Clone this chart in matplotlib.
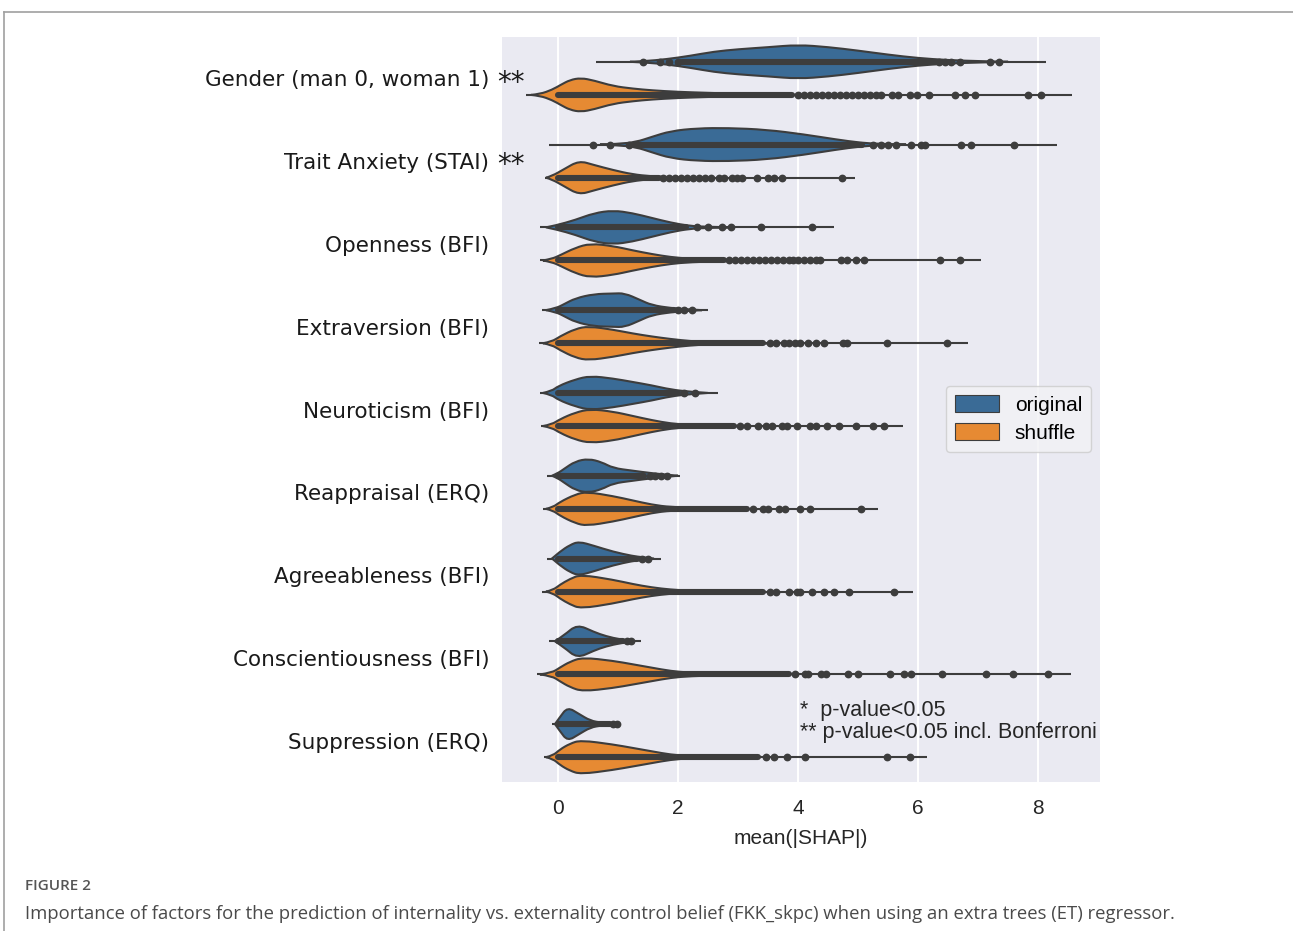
import matplotlib
matplotlib.use("Agg")
import matplotlib.pyplot as plt
from matplotlib.lines import Line2D
from matplotlib.patches import Patch, PathPatch
from matplotlib.path import Path

# feature names (top to bottom)
features = ["Gender (man 0, woman 1)", "Trait Anxiety (STAI)", "Openness (BFI)",
            "Extraversion (BFI)", "Neuroticism (BFI)", "Reappraisal (ERQ)",
            "Agreeableness (BFI)", "Conscientiousness (BFI)", "Suppression (ERQ)"]
signif = ["**", "**", "", "", "", "", "", "", ""]

# violin outlines: knot positions (mean|SHAP|) and relative half-width
orig_x = [[1.2, 1.45, 1.8, 2.2, 2.6, 3.0, 3.5, 4.0, 4.5, 5.0, 5.5, 6.0, 6.5, 7.0, 7.5],
          [0.7, 1.0, 1.3, 1.56, 1.88, 2.32, 2.83, 3.47, 4.1, 4.62, 5.06, 5.38, 5.8],
          [-0.2, -0.03, 0.29, 0.6, 0.92, 1.24, 1.56, 1.88, 2.2, 2.52, 2.9],
          [-0.2, -0.03, 0.1, 0.29, 0.6, 0.92, 1.11, 1.37, 1.56, 1.88, 2.2, 2.4],
          [-0.25, -0.1, 0.0, 0.29, 0.54, 0.92, 1.24, 1.56, 1.88, 2.2, 2.5],
          [-0.1, 0.0, 0.1, 0.29, 0.51, 0.73, 0.92, 1.24, 1.56, 1.88, 2.0],
          [-0.1, 0.03, 0.2, 0.35, 0.6, 0.92, 1.24, 1.4, 1.6],
          [-0.05, 0.1, 0.32, 0.6, 0.8, 1.05, 1.25],
          [-0.05, 0.03, 0.16, 0.35, 0.54, 0.73, 0.9]]
orig_w = [[0, 0.04, 0.15, 0.35, 0.6, 0.74, 0.86, 1.0, 0.87, 0.66, 0.42, 0.22, 0.1, 0.04, 0],
          [0, 0.04, 0.15, 0.45, 0.8, 0.96, 0.98, 0.88, 0.6, 0.31, 0.1, 0.04, 0],
          [0, 0.12, 0.44, 0.84, 1.0, 0.84, 0.56, 0.28, 0.08, 0.03, 0],
          [0, 0.12, 0.35, 0.7, 0.95, 0.98, 1.0, 0.6, 0.3, 0.12, 0.04, 0],
          [0, 0.12, 0.4, 0.8, 1.0, 0.85, 0.65, 0.45, 0.2, 0.07, 0],
          [0, 0.15, 0.4, 0.85, 1.0, 0.8, 0.45, 0.3, 0.15, 0.04, 0],
          [0, 0.4, 0.8, 1.0, 0.75, 0.4, 0.15, 0.08, 0],
          [0, 0.35, 1.0, 0.55, 0.3, 0.1, 0],
          [0, 0.4, 1.0, 0.6, 0.2, 0.08, 0]]
orig_tail = [(0.64, 8.13), (-0.15, 8.32), (-0.3, 4.6), (-0.27, 2.5), (-0.3, 2.66),
             (-0.19, 2.04), (-0.19, 1.71), (-0.15, 1.38), (-0.1, 1.04)]
orig_band = [(2.07, 6.3), (1.27, 5.06), (0, 2.13), (0, 1.94), (0, 2.0),
             (0, 1.43), (0, 1.31), (0, 1.08), (0, 0.86)]
orig_dots = [[1.42, 1.7, 1.85, 2.0, 6.35, 6.45, 6.55, 6.7, 7.2, 7.35],
             [0.59, 0.86, 1.18, 5.25, 5.38, 5.5, 5.64, 5.89, 6.05, 6.11, 6.72, 6.88, 7.59],
             [2.32, 2.5, 2.73, 2.88, 3.39, 4.24],
             [2.0, 2.1, 2.23],
             [2.1, 2.29],
             [1.53, 1.62, 1.72, 1.82],
             [1.4, 1.5],
             [1.15, 1.21],
             [0.92, 0.99]]

shuf_x = [[-0.45, -0.3, -0.1, 0.05, 0.2, 0.38, 0.6, 0.92, 1.25, 1.56, 2.0, 2.5, 3.0, 3.5, 4.0],
          [-0.2, -0.1, 0.1, 0.35, 0.6, 0.92, 1.24, 1.56, 1.88, 2.2],
          [-0.25, -0.1, 0.03, 0.29, 0.54, 0.92, 1.24, 1.56, 1.88, 2.2, 2.83, 3.3],
          [-0.25, -0.1, 0.03, 0.29, 0.51, 0.92, 1.24, 1.56, 1.88, 2.2, 2.52, 3.15, 3.6],
          [-0.25, -0.1, 0.03, 0.29, 0.54, 0.92, 1.24, 1.56, 1.88, 2.2, 2.83, 3.2],
          [-0.2, -0.08, 0.03, 0.29, 0.48, 0.92, 1.24, 1.56, 1.88, 2.52, 3.0],
          [-0.2, -0.08, 0.03, 0.2, 0.38, 0.92, 1.24, 1.56, 1.88, 2.2, 2.83, 3.2],
          [-0.3, -0.1, 0.03, 0.2, 0.41, 0.92, 1.24, 1.56, 1.88, 2.2, 2.83, 3.3],
          [-0.2, -0.08, 0.03, 0.2, 0.38, 0.92, 1.24, 1.56, 1.88, 2.2, 2.6]]
shuf_w = [[0, 0.05, 0.3, 0.6, 0.88, 1.0, 0.85, 0.52, 0.37, 0.27, 0.18, 0.12, 0.07, 0.03, 0],
          [0, 0.1, 0.5, 1.0, 0.75, 0.45, 0.2, 0.08, 0.03, 0],
          [0, 0.1, 0.3, 0.75, 1.0, 0.85, 0.6, 0.38, 0.2, 0.1, 0.03, 0],
          [0, 0.1, 0.4, 0.85, 1.0, 0.8, 0.58, 0.4, 0.25, 0.13, 0.06, 0.02, 0],
          [0, 0.1, 0.4, 0.8, 1.0, 0.85, 0.6, 0.35, 0.15, 0.06, 0.02, 0],
          [0, 0.1, 0.4, 0.85, 1.0, 0.75, 0.5, 0.25, 0.1, 0.03, 0],
          [0, 0.1, 0.4, 0.75, 1.0, 0.7, 0.45, 0.25, 0.12, 0.05, 0.02, 0],
          [0, 0.1, 0.4, 0.75, 1.0, 0.8, 0.6, 0.4, 0.2, 0.1, 0.04, 0],
          [0, 0.1, 0.45, 0.8, 1.0, 0.75, 0.55, 0.35, 0.15, 0.06, 0]]
shuf_tail = [(-0.53, 8.57), (-0.22, 4.95), (-0.3, 7.05), (-0.32, 6.83), (-0.29, 5.75),
             (-0.25, 5.34), (-0.27, 5.91), (-0.35, 8.54), (-0.24, 6.15)]
shuf_band = [(0, 3.9), (0, 1.69), (0, 2.77), (0, 3.41), (0, 2.93),
             (0, 3.15), (0, 3.41), (0, 3.85), (0, 3.34)]
shuf_dots = [[4.0, 4.1, 4.2, 4.3, 4.4, 4.5, 4.6, 4.7, 4.8, 4.9, 5.0, 5.1, 5.2, 5.3, 5.38,
              5.57, 5.67, 5.86, 5.99, 6.18, 6.62, 6.78, 6.94, 7.83, 8.04],
             [1.75, 1.85, 1.95, 2.05, 2.15, 2.25, 2.35, 2.45, 2.55, 2.68, 2.77, 2.9, 2.99,
              3.06, 3.31, 3.5, 3.6, 3.73, 4.73],
             [2.85, 2.95, 3.05, 3.15, 3.25, 3.35, 3.45, 3.55, 3.65, 3.75, 3.85, 3.92, 4.0,
              4.1, 4.2, 4.3, 4.36, 4.71, 4.81, 4.97, 5.1, 6.37, 6.69],
             [3.54, 3.63, 3.76, 3.85, 3.95, 4.04, 4.17, 4.3, 4.43, 4.75, 4.81, 5.49, 6.48],
             [3.03, 3.15, 3.34, 3.46, 3.57, 3.73, 3.82, 3.98, 4.2, 4.3, 4.49, 4.68, 4.97,
              5.25, 5.43],
             [3.25, 3.41, 3.5, 3.69, 3.79, 4.04, 4.2, 5.05],
             [3.54, 3.63, 3.85, 3.98, 4.04, 4.24, 4.43, 4.6, 4.85, 5.6],
             [3.95, 4.11, 4.17, 4.39, 4.46, 4.84, 5.0, 5.54, 5.76, 5.89, 6.4, 7.13, 7.58, 8.17],
             [3.47, 3.6, 3.82, 4.11, 5.49, 5.87]]

c_orig = "#3a6b96"
c_shuf = "#e68a33"
c_dark = "#3d3d3d"

fig = plt.figure(figsize=(12.93, 9.31), dpi=100)
ax = fig.add_axes([0.3882, 0.16, 0.4625, 0.8003])
ax.set_facecolor("#eaeaf2")
for s in ax.spines.values():
    s.set_visible(False)
ax.grid(axis="x", color="white", lw=1.4)
ax.set_axisbelow(True)


def smooth_path(pts):
    # quadratic bezier through knot midpoints, knots used as control points
    verts = [pts[0]]
    codes = [Path.MOVETO]
    for k in range(1, len(pts) - 1):
        if k == len(pts) - 2:
            end = pts[k + 1]
        else:
            end = ((pts[k][0] + pts[k + 1][0]) / 2, (pts[k][1] + pts[k + 1][1]) / 2)
        verts += [pts[k], end]
        codes += [Path.CURVE3, Path.CURVE3]
    return verts, codes


def draw_violin(y, xs, ws, tail, band, dots, color):
    half = 0.205
    top = [(x, y - w * half) for x, w in zip(xs, ws)]
    bot = [(x, y + w * half) for x, w in zip(xs, ws)][::-1]
    v1, c1 = smooth_path(top)
    v2, c2 = smooth_path(bot)
    verts = v1 + v2[1:] + [v1[0]]
    codes = c1 + c2[1:] + [Path.CLOSEPOLY]
    ax.plot(tail, [y, y], color=c_dark, lw=1.5, zorder=2, solid_capstyle="butt")
    ax.add_patch(PathPatch(Path(verts, codes), facecolor=color, edgecolor=c_dark,
                           lw=1.5, zorder=3))
    ax.plot(band, [y, y], color=c_dark, lw=4.4, zorder=4, solid_capstyle="round")
    ax.plot(dots, [y] * len(dots), "o", color=c_dark, ms=4.6, zorder=4)


for i in range(len(features)):
    draw_violin(i - 0.2, orig_x[i], orig_w[i], orig_tail[i], orig_band[i], orig_dots[i], c_orig)
    draw_violin(i + 0.2, shuf_x[i], shuf_w[i], shuf_tail[i], shuf_band[i], shuf_dots[i], c_shuf)

ax.set_xlim(-0.933, 9.03)
ax.set_ylim(len(features) - 0.5, -0.5)
ax.set_xticks([0, 2, 4, 6, 8])
ax.set_xticklabels(["0", "2", "4", "6", "8"], fontsize=15, family="Liberation Sans", color="#262626")
ax.set_yticks(range(len(features)))
ax.set_yticklabels(features, fontsize=15.5, family="DejaVu Sans", color="#1a1a1a")
ax.tick_params(axis="both", length=0)
ax.tick_params(axis="y", pad=9)
ax.tick_params(axis="x", pad=12)
ax.set_xlabel("mean(|SHAP|)", fontsize=15, family="Liberation Sans", color="#262626", labelpad=8)

# significance stars next to the labels
for i, s in enumerate(signif):
    if s:
        ax.annotate(s, xy=(0, i), xycoords=("axes fraction", "data"), xytext=(-3.5, -3),
                    textcoords="offset points", ha="left", va="center",
                    fontsize=20, family="DejaVu Sans", color="#1a1a1a")

handles = [Patch(facecolor=c_orig, edgecolor=c_dark, lw=0.8, label="original"),
           Patch(facecolor=c_shuf, edgecolor=c_dark, lw=0.8, label="shuffle")]
leg = ax.legend(handles=handles, loc="center left", bbox_to_anchor=(0.725, 0.487),
                prop={"family": "Liberation Sans", "size": 15}, frameon=True,
                handlelength=2.1, handleheight=0.85, borderpad=0.45, labelspacing=0.4,
                handletextpad=0.75)
leg.get_frame().set_facecolor("#f2f2f5")
leg.get_frame().set_edgecolor("#cccccc")

ax.text(0.498, 0.081, "*  p-value<0.05\n** p-value<0.05 incl. Bonferroni", transform=ax.transAxes,
        fontsize=15.5, family="Liberation Sans", color="#262626", va="center", ha="left",
        linespacing=1.05)

# page frame and caption
fig.add_artist(Line2D([4 / 1293, 1], [1 - 12 / 931] * 2, color="#a0a0a0", lw=1.2))
fig.add_artist(Line2D([4 / 1293] * 2, [0, 1 - 12 / 931], color="#a0a0a0", lw=1.2))
fig.text(25 / 1293, 1 - 886 / 931, "FIGURE 2", fontsize=11, family="Open Sans",
         weight="semibold", color="#555555", va="center")
fig.text(25 / 1293, 1 - 914 / 931,
         "Importance of factors for the prediction of internality vs. externality control belief "
         "(FKK_skpc) when using an extra trees (ET) regressor.",
         fontsize=13.3, family="Open Sans", color="#4a4a4a", va="center")

fig.savefig("out.png", dpi=100)
